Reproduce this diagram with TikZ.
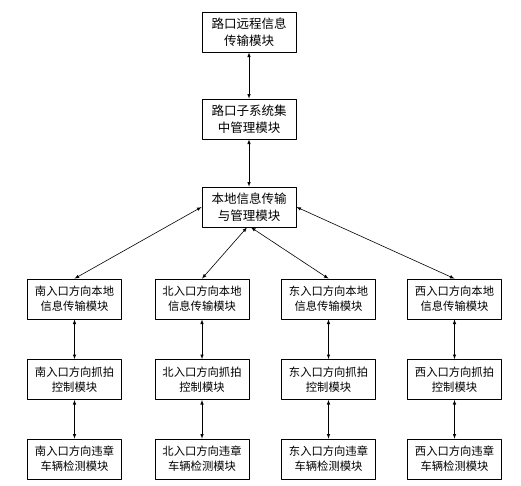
\documentclass[tikz,border=0pt]{standalone}
\usepackage{fontspec}
\newfontfamily\cjk{Noto Sans CJK SC}
\begin{document}
\begin{tikzpicture}[
		x = 1pt,
		y = -1pt,
		line join = round,
		> = latex,
		mbox/.style = {draw, line width=0.8pt, minimum width=94pt, minimum height=40pt,
			inner sep=1pt, align=center, font=\cjk\fontsize{12.5}{17}\selectfont},
		sbox/.style = {mbox, font=\cjk\fontsize{11.3}{15}\selectfont},
		link/.style = {<->, line width=0.6pt},
		]
\useasboundingbox (0,0) rectangle (521,485);
\node[mbox] (remote)	at (249,32)	{路口远程信息\\传输模块};
\node[mbox] (central)	at (249,119)	{路口子系统集\\中管理模块};
\node[mbox] (local)	at (249,207)	{本地信息传输\\与管理模块};

\node[sbox] (sTrans)	at (74.5,299)	{南入口方向本地\\信息传输模块};
\node[sbox] (nTrans)	at (202,299)	{北入口方向本地\\信息传输模块};
\node[sbox] (eTrans)	at (328.5,299)	{东入口方向本地\\信息传输模块};
\node[sbox] (wTrans)	at (454.5,299)	{西入口方向本地\\信息传输模块};

\node[sbox] (sSnap)	at (74.5,379.5)	{南入口方向抓拍\\控制模块};
\node[sbox] (nSnap)	at (202,379.5)	{北入口方向抓拍\\控制模块};
\node[sbox] (eSnap)	at (328.5,379.5)	{东入口方向抓拍\\控制模块};
\node[sbox] (wSnap)	at (454.5,379.5)	{西入口方向抓拍\\控制模块};

\node[sbox] (sDetect)	at (74.5,459)	{南入口方向违章\\车辆检测模块};
\node[sbox] (nDetect)	at (202,459)	{北入口方向违章\\车辆检测模块};
\node[sbox] (eDetect)	at (328.5,459)	{东入口方向违章\\车辆检测模块};
\node[sbox] (wDetect)	at (454.5,459)	{西入口方向违章\\车辆检测模块};

\draw[link]	(remote) -- (central);
\draw[link]	(central) -- (local);
\draw[link]	(local.west) -- (sTrans.north);
\draw[link]	([xshift=-2pt]local.south) -- (nTrans.north);
\draw[link]	([xshift=2pt]local.south) -- (eTrans.north);
\draw[link]	(local.east) -- (wTrans.north);
\draw[link]	(sTrans) -- (sSnap);
\draw[link]	(nTrans) -- (nSnap);
\draw[link]	(eTrans) -- (eSnap);
\draw[link]	(wTrans) -- (wSnap);
\draw[link]	(sSnap) -- (sDetect);
\draw[link]	(nSnap) -- (nDetect);
\draw[link]	(eSnap) -- (eDetect);
\draw[link]	(wSnap) -- (wDetect);
\end{tikzpicture}
\end{document}
